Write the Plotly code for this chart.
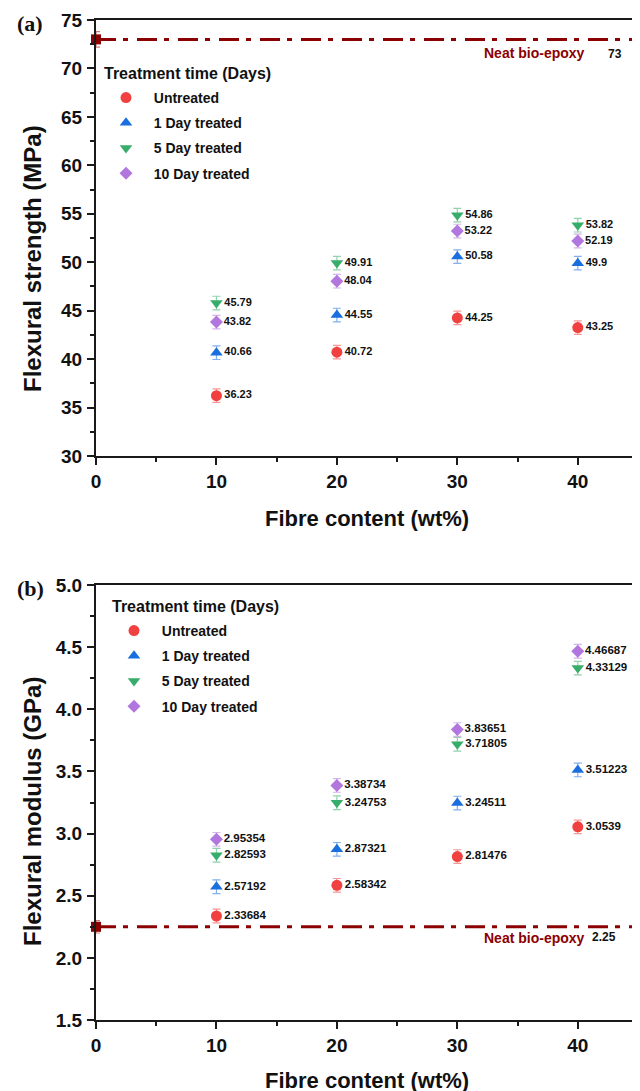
import plotly.graph_objects as go

# ---------------- data ----------------
fibre = [10, 20, 30, 40]
series_names = ["Untreated", "1 Day treated", "5 Day treated", "10 Day treated"]

strength_untreated = [36.23, 40.72, 44.25, 43.25]
strength_1day = [40.66, 44.55, 50.58, 49.9]
strength_5day = [45.79, 49.91, 54.86, 53.82]
strength_10day = [43.82, 48.04, 53.22, 52.19]
strength_err = [0.7, 0.7, 0.7, 0.7]

modulus_untreated = [2.33684, 2.58342, 2.81476, 3.0539]
modulus_1day = [2.57192, 2.87321, 3.24511, 3.51223]
modulus_5day = [2.82593, 3.24753, 3.71805, 4.33129]
modulus_10day = [2.95354, 3.38734, 3.83651, 4.46687]
modulus_err = [0.055, 0.055, 0.055, 0.055]

neat_fibre = [0]
neat_strength = [73]
neat_strength_err = [0.8]
neat_modulus = [2.25]
neat_modulus_err = [0.05]

x_ticks = [0, 10, 20, 30, 40]
strength_ticks = [30, 35, 40, 45, 50, 55, 60, 65, 70, 75]
modulus_ticks = [1.5, 2.0, 2.5, 3.0, 3.5, 4.0, 4.5, 5.0]

# ---------------- style ----------------
colors = ["#F14040", "#1A6FDF", "#37AD6B", "#B177DE"]
err_colors = ["rgba(241,64,64,0.55)", "rgba(26,111,223,0.55)",
              "rgba(55,173,107,0.55)", "rgba(177,119,222,0.55)"]
symbols = ["circle", "triangle-up", "triangle-down", "diamond"]
sizes = [11, 11, 11, 10]
neat_color = "#8B0000"
FONT = "Liberation Sans, Arial, sans-serif"
SERIF = "Liberation Serif, Times New Roman, serif"

# page body has an 8px margin: compensate so that the plot lands where the reference has it
W, H = 640, 1091
ML, MR, MT, MB = 88, 10, 12, 79
PW = W - ML - MR
PH = H - MT - MB
OFF = 8


def px_x(p):
    return (p - OFF - ML) / PW


def px_y(p):
    return (H - MB - (p - OFF)) / PH


fig = go.Figure()

strength_sets = [strength_untreated, strength_1day, strength_5day, strength_10day]
modulus_sets = [modulus_untreated, modulus_1day, modulus_5day, modulus_10day]

# neat reference markers
fig.add_trace(go.Scatter(
    x=neat_fibre, y=neat_strength, mode="markers", showlegend=False,
    marker=dict(symbol="square", size=10, color=neat_color),
    error_y=dict(type="data", array=neat_strength_err, color="rgba(139,0,0,0.5)",
                 thickness=1.2, width=4),
    cliponaxis=False, xaxis="x", yaxis="y"))
fig.add_trace(go.Scatter(
    x=neat_fibre, y=neat_modulus, mode="markers", showlegend=False,
    marker=dict(symbol="square", size=10, color=neat_color),
    error_y=dict(type="data", array=neat_modulus_err, color="rgba(139,0,0,0.5)",
                 thickness=1.2, width=4),
    cliponaxis=False, xaxis="x2", yaxis="y2"))

pad = "\u00a0\u00a0"
for i, name in enumerate(series_names):
    fig.add_trace(go.Scatter(
        x=fibre, y=strength_sets[i], name=pad + name, mode="markers+text",
        text=[str(v) for v in strength_sets[i]], textposition="middle right",
        textfont=dict(family=FONT, size=11, color="#111", weight="bold"),
        marker=dict(symbol=symbols[i], size=sizes[i], color=colors[i], line=dict(width=0)),
        error_y=dict(type="data", array=strength_err, color=err_colors[i],
                     thickness=1.2, width=4),
        legend="legend", legendgroup="a%d" % i,
        xaxis="x", yaxis="y", cliponaxis=False))
for i, name in enumerate(series_names):
    fig.add_trace(go.Scatter(
        x=fibre, y=modulus_sets[i], name=pad + name, mode="markers+text",
        text=[str(v) for v in modulus_sets[i]], textposition="middle right",
        textfont=dict(family=FONT, size=11.5, color="#111", weight="bold"),
        marker=dict(symbol=symbols[i], size=sizes[i], color=colors[i], line=dict(width=0)),
        error_y=dict(type="data", array=modulus_err, color=err_colors[i],
                     thickness=1.2, width=4),
        legend="legend2", legendgroup="b%d" % i,
        xaxis="x2", yaxis="y2", cliponaxis=False))

# neat dash-dot lines (behind the markers)
dash = "20px,7px,5px,9px"
shapes = [
    dict(type="line", xref="x domain", x0=0, x1=1, yref="y",
         y0=neat_strength[0], y1=neat_strength[0],
         line=dict(color=neat_color, width=3, dash=dash), layer="below"),
    dict(type="line", xref="x2 domain", x0=0, x1=1, yref="y2",
         y0=neat_modulus[0], y1=neat_modulus[0],
         line=dict(color=neat_color, width=3, dash=dash), layer="below"),
]

axis_common = dict(
    showline=True, linecolor="#1a1a1a", linewidth=2, mirror=True,
    ticks="outside", ticklen=7, tickwidth=2, tickcolor="#1a1a1a",
    showgrid=False, zeroline=False, automargin=False,
    tickfont=dict(family=FONT, size=19, color="#111", weight="bold"),
)

xa = dict(axis_common, range=[0, 45], tickvals=x_ticks,
          minor=dict(dtick=5, ticklen=4, tickwidth=2, tickcolor="#1a1a1a", ticks="outside", showgrid=False),
          ticklabelstandoff=0)

leg_font = dict(family=FONT, size=14, color="#111", weight="bold")
fig.update_layout(
    width=W, height=H,
    margin=dict(l=ML, r=MR, t=MT, b=MB, autoexpand=False),
    plot_bgcolor="white", paper_bgcolor="white",
    xaxis=dict(xa, anchor="y", domain=[0, 1]),
    xaxis2=dict(xa, anchor="y2", domain=[0, 1]),
    yaxis=dict(axis_common, range=[30, 75], tickvals=strength_ticks,
               domain=[px_y(456), 1], anchor="x",
               minor=dict(dtick=2.5, ticklen=4, tickwidth=2, tickcolor="#1a1a1a", ticks="outside", showgrid=False),
               ticklabelstandoff=1),
    yaxis2=dict(axis_common, range=[1.5, 5.0], tickvals=modulus_ticks,
                tickformat=".1f",
                domain=[0, px_y(585)], anchor="x2",
                minor=dict(dtick=0.25, ticklen=4, tickwidth=2, tickcolor="#1a1a1a", ticks="outside", showgrid=False),
                ticklabelstandoff=1),
    shapes=shapes,
    showlegend=True,
    legend=dict(
        x=px_x(106), y=px_y(82), xanchor="left", yanchor="top",
        bgcolor="rgba(0,0,0,0)", borderwidth=0,
        font=leg_font, tracegroupgap=4, itemclick=False),
    legend2=dict(
        x=px_x(114), y=px_y(615), xanchor="left", yanchor="top",
        bgcolor="rgba(0,0,0,0)", borderwidth=0,
        font=leg_font, tracegroupgap=4, itemclick=False),
)

title_font = dict(family=FONT, size=22, color="#111", weight="bold")
ytitle_font = dict(family=FONT, size=24, color="#111", weight="bold")
legtitle_font = dict(family=FONT, size=16, color="#111", weight="bold")


def pa(text, xp, yp, font, xanchor="center", yanchor="middle", angle=0):
    return dict(text=text, xref="paper", yref="paper", x=px_x(xp), y=px_y(yp),
                xanchor=xanchor, yanchor=yanchor, textangle=angle,
                showarrow=False, font=font)


annotations = [
    pa("(a)", 30, 23, dict(family=SERIF, size=22, color="#111", weight="bold")),
    pa("(b)", 30, 588, dict(family=SERIF, size=22, color="#111", weight="bold")),
    pa("Fibre content (wt%)", 367, 518, title_font),
    pa("Fibre content (wt%)", 367, 1080, title_font),
    pa("Flexural strength (MPa)", 32, 259, ytitle_font, angle=-90),
    pa("Flexural modulus (GPa)", 32, 812, ytitle_font, angle=-90),
    pa("Treatment time (Days)", 102, 73, legtitle_font, xanchor="left"),
    pa("Treatment time (Days)", 110, 606, legtitle_font, xanchor="left"),
    dict(text="Neat bio-epoxy", xref="x", yref="y", x=40.75, y=neat_strength[0], yshift=-14,
         xanchor="right", showarrow=False,
         font=dict(family=FONT, size=14, color=neat_color, weight="bold")),
    dict(text=str(neat_strength[0]), xref="x", yref="y", x=43.1, y=neat_strength[0], yshift=-15,
         showarrow=False, font=dict(family=FONT, size=12, color="#111", weight="bold")),
    dict(text="Neat bio-epoxy", xref="x2", yref="y2", x=40.8, y=neat_modulus[0], yshift=-11,
         xanchor="right", showarrow=False,
         font=dict(family=FONT, size=14, color=neat_color, weight="bold")),
    dict(text=str(neat_modulus[0]), xref="x2", yref="y2", x=42.2, y=neat_modulus[0], yshift=-10,
         showarrow=False, font=dict(family=FONT, size=12, color="#111", weight="bold")),
]
fig.update_layout(annotations=annotations)

fig.write_html("out.html")
